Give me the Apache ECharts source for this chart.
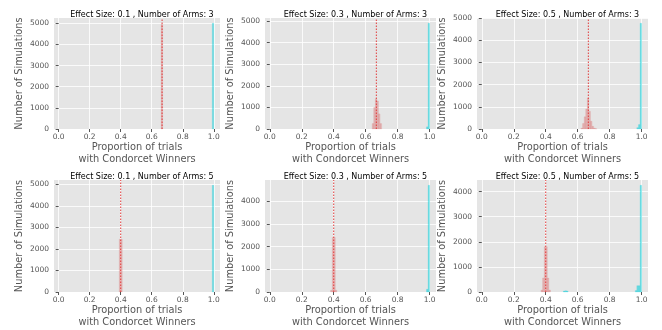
<!DOCTYPE html>
<html><head><meta charset="utf-8">
<script src="https://cdn.jsdelivr.net/npm/echarts@6/dist/echarts.min.js"></script>
<style>html,body{margin:0;padding:0;background:#fff}#c{width:662px;height:330px}</style>
</head><body><div id="c"></div>
<script>
const titles = [
  "Effect Size: 0.1 , Number of Arms: 3",
  "Effect Size: 0.3 , Number of Arms: 3",
  "Effect Size: 0.5 , Number of Arms: 3",
  "Effect Size: 0.1 , Number of Arms: 5",
  "Effect Size: 0.3 , Number of Arms: 5",
  "Effect Size: 0.5 , Number of Arms: 5"
];
const xTicks = [0, 0.2, 0.4, 0.6, 0.8, 1.0];
const yTicks = [0, 1000, 2000, 3000, 4000, 5000];
const refLineX = [0.6667, 0.6667, 0.6667, 0.4, 0.4, 0.4];
const binWidth = 0.01;

// red histogram (left bin edges, counts)
const redEdges1 = [0.66];
const redCounts1 = [4950];
const redEdges2 = [0.64, 0.65, 0.66, 0.67, 0.68, 0.69];
const redCounts2 = [250, 1000, 1400, 1300, 700, 250];
const redEdges3 = [0.62, 0.63, 0.64, 0.65, 0.66, 0.67, 0.68, 0.69, 0.70, 0.71];
const redCounts3 = [40, 250, 550, 900, 1400, 800, 350, 120, 40, 10];
const redEdges4 = [0.39, 0.40];
const redCounts4 = [2450, 2450];
const redEdges5 = [0.38, 0.39, 0.40, 0.41];
const redCounts5 = [80, 2400, 2400, 80];
const redEdges6 = [0.37, 0.38, 0.39, 0.40, 0.41, 0.42];
const redCounts6 = [80, 560, 1800, 1800, 560, 80];

// cyan histogram (left bin edges, counts)
const cyanEdges1 = [0.99];
const cyanCounts1 = [5000];
const cyanEdges2 = [0.98, 0.99];
const cyanCounts2 = [100, 4900];
const cyanEdges3 = [0.97, 0.98, 0.99];
const cyanCounts3 = [60, 200, 4770];
const cyanEdges4 = [0.99];
const cyanCounts4 = [4950];
const cyanEdges5 = [0.98, 0.99];
const cyanCounts5 = [120, 4700];
const cyanEdges6 = [0.51, 0.52, 0.53, 0.96, 0.97, 0.98, 0.99];
const cyanCounts6 = [40, 50, 40, 60, 250, 250, 4250];

const redEdges = [redEdges1, redEdges2, redEdges3, redEdges4, redEdges5, redEdges6];
const redCounts = [redCounts1, redCounts2, redCounts3, redCounts4, redCounts5, redCounts6];
const cyanEdges = [cyanEdges1, cyanEdges2, cyanEdges3, cyanEdges4, cyanEdges5, cyanEdges6];
const cyanCounts = [cyanCounts1, cyanCounts2, cyanCounts3, cyanCounts4, cyanCounts5, cyanCounts6];

const colLeft = [54, 265, 477];
const colWidth = [166, 171, 171];
const rowTop = [18, 180];
const rowHeight = [111, 112];
const FONT = 'DejaVu Sans';

function renderHist(params, api) {
  const x0 = api.value(0), x1 = api.value(1), c = api.value(2);
  const p0 = api.coord([x0, c]);
  const p1 = api.coord([x1, 0]);
  return {
    type: 'rect',
    shape: { x: p0[0], y: p0[1], width: p1[0] - p0[0], height: p1[1] - p0[1] },
    style: api.style()
  };
}

const grids = [], xAxes = [], yAxes = [], series = [], titleArr = [];
for (let i = 0; i < 6; i++) {
  const r = Math.floor(i / 3), c = i % 3;
  const allCounts = redCounts[i].concat(cyanCounts[i]);
  const yMax = Math.max.apply(null, allCounts) * 1.05;
  grids.push({
    left: colLeft[c], top: rowTop[r], width: colWidth[c], height: rowHeight[r],
    show: true, backgroundColor: '#E5E5E5', borderWidth: 0
  });
  titleArr.push({
    text: titles[i], left: colLeft[c] + colWidth[c] / 2, top: rowTop[r] - 12,
    textAlign: 'center',
    textStyle: { fontFamily: FONT, fontSize: 8, fontWeight: 'normal', color: '#000' }
  });
  xAxes.push({
    type: 'value', gridIndex: i, min: -0.03, max: 1.04,
    axisLine: { show: false },
    axisTick: { show: true, length: 3, lineStyle: { color: '#555' }, customValues: xTicks },
    axisLabel: { customValues: xTicks, margin: 4, fontFamily: FONT, fontSize: 7.5, color: '#555',
      formatter: v => v.toFixed(1) },
    splitLine: { show: true, lineStyle: { color: 'rgba(255,255,255,0.8)', width: 1 } },
    name: 'Proportion of trials\nwith Condorcet Winners', nameLocation: 'middle', nameGap: 12,
    nameTextStyle: { fontFamily: FONT, fontSize: 9.8, color: '#555', lineHeight: 11.5 }
  });
  const yt = yTicks.filter(v => v <= yMax);
  yAxes.push({
    type: 'value', gridIndex: i, min: 0, max: yMax,
    axisLine: { show: false },
    axisTick: { show: true, length: 3, lineStyle: { color: '#555' }, customValues: yt },
    axisLabel: { customValues: yt, margin: 5, fontFamily: FONT, fontSize: 7.5, color: '#555',
      formatter: v => String(Math.round(v)) },
    splitLine: { show: true, lineStyle: { color: 'rgba(255,255,255,0.8)', width: 1 } },
    name: 'Number of Simulations', nameLocation: 'middle', nameGap: 30,
    nameTextStyle: { fontFamily: FONT, fontSize: 9.8, color: '#555' }
  });
  series.push({
    type: 'custom', xAxisIndex: i, yAxisIndex: i, renderItem: renderHist,
    encode: { x: [0, 1], y: 2 },
    itemStyle: { color: 'rgba(215,70,70,0.3)', borderColor: 'rgba(215,70,70,0.3)', borderWidth: 0.3 },
    data: redEdges[i].map((e, k) => [e, e + binWidth, redCounts[i][k]]),
    z: 2, silent: true
  });
  series.push({
    type: 'custom', xAxisIndex: i, yAxisIndex: i, renderItem: renderHist,
    encode: { x: [0, 1], y: 2 },
    itemStyle: { color: 'rgba(0,210,220,0.5)', borderColor: 'rgba(0,210,220,0.5)', borderWidth: 0.3 },
    data: cyanEdges[i].map((e, k) => [e, e + binWidth, cyanCounts[i][k]]),
    z: 2, silent: true
  });
  series.push({
    type: 'line', xAxisIndex: i, yAxisIndex: i, symbol: 'none', silent: true,
    data: [[refLineX[i], 0], [refLineX[i], yMax]],
    lineStyle: { color: '#E03C3C', width: 1, type: [1.5, 1.5] }, z: 3
  });
}

const chart = echarts.init(document.getElementById('c'), null, { renderer: 'canvas' });
chart.setOption({
  animation: false,
  title: titleArr,
  grid: grids,
  xAxis: xAxes,
  yAxis: yAxes,
  series: series
});
</script></body></html>
